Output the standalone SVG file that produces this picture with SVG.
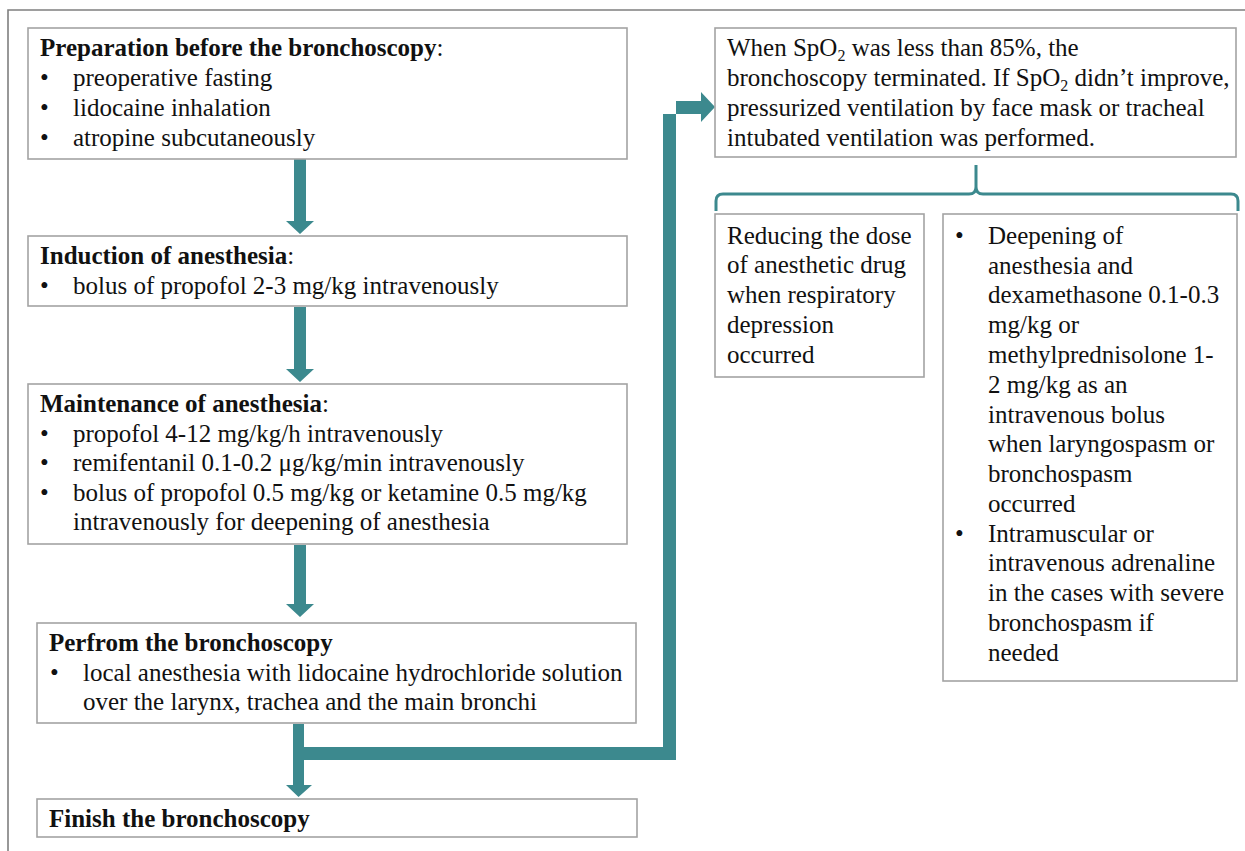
<svg xmlns="http://www.w3.org/2000/svg" width="1245" height="851" viewBox="0 0 1245 851">
<style>
.box{fill:#ffffff;stroke:#a3a3a3;stroke-width:1.6}
.t{font-family:"Liberation Serif",Tinos,"DejaVu Serif",serif;font-size:25px;fill:#111111}
.b{font-weight:bold}
.sub{font-size:16px}
.arr{fill:#3c898e}
.brace{fill:none;stroke:#3c898e;stroke-width:3;stroke-linejoin:round}
.frame{stroke:#7f7f7f;stroke-width:1.6;fill:none}
</style>
<rect width="1245" height="851" fill="#ffffff"/>
<path class="frame" d="M8,851 V10 H1245"/>

<g id="connectors">
  <polygon class="arr" points="294,159 306,159 306,221 314,221 300,234 286,221 294,221"/>
  <polygon class="arr" points="294,307 306,307 306,369 314,369 300,382 286,369 294,369"/>
  <polygon class="arr" points="294,545 306,545 306,604 314,604 300,617 286,604 294,604"/>
  <polygon class="arr" points="293,724 304,724 304,785 312,785 298.5,797 286,785 293,785"/>
  <polygon class="arr" points="304,747 663,747 663,114 701,114 701,122 715,107 701,92 701,101 676,101 676,760 304,760"/>
  <path class="brace" d="M716,211 V201 Q716,194 723,194 H969 Q976,194 976,187 V165 M976,187 Q976,194 983,194 H1231 Q1238,194 1238,201 V211"/>
</g>

<g id="node-preparation">
  <rect class="box" x="28" y="28" width="599" height="131"/>
  <text class="t" x="40" y="56"><tspan class="b">Preparation before the bronchoscopy</tspan>:</text>
  <text class="t" x="40" y="86">•</text><text class="t" x="73" y="86">preoperative fasting</text>
  <text class="t" x="40" y="116">•</text><text class="t" x="73" y="116">lidocaine inhalation</text>
  <text class="t" x="40" y="146">•</text><text class="t" x="73" y="146">atropine subcutaneously</text>
</g>

<g id="node-induction">
  <rect class="box" x="28" y="236" width="599" height="70"/>
  <text class="t" x="40" y="264"><tspan class="b">Induction of anesthesia</tspan>:</text>
  <text class="t" x="40" y="294">•</text><text class="t" x="73" y="294">bolus of propofol 2-3 mg/kg intravenously</text>
</g>

<g id="node-maintenance">
  <rect class="box" x="28" y="384" width="599" height="160"/>
  <text class="t" x="40" y="412"><tspan class="b">Maintenance of anesthesia</tspan>:</text>
  <text class="t" x="40" y="442">•</text><text class="t" x="73" y="442">propofol 4-12 mg/kg/h intravenously</text>
  <text class="t" x="40" y="471">•</text><text class="t" x="73" y="471">remifentanil 0.1-0.2 μg/kg/min intravenously</text>
  <text class="t" x="40" y="501">•</text><text class="t" x="73" y="501">bolus of propofol 0.5 mg/kg or ketamine 0.5 mg/kg</text>
  <text class="t" x="73" y="530">intravenously for deepening of anesthesia</text>
</g>

<g id="node-perform">
  <rect class="box" x="37" y="623" width="599" height="100"/>
  <text class="t b" x="49" y="651">Perfrom the bronchoscopy</text>
  <text class="t" x="50" y="681">•</text><text class="t" x="83" y="681">local anesthesia with lidocaine hydrochloride solution</text>
  <text class="t" x="83" y="710">over the larynx, trachea and the main bronchi</text>
</g>

<g id="node-finish">
  <rect class="box" x="37" y="799" width="600" height="38"/>
  <text class="t b" x="49" y="827">Finish the bronchoscopy</text>
</g>

<g id="node-spo2">
  <rect class="box" x="715" y="28" width="521" height="129"/>
  <text class="t" x="727" y="56">When SpO<tspan class="sub" dy="5">2</tspan><tspan dy="-5"> was less than 85%, the</tspan></text>
  <text class="t" x="727" y="86">bronchoscopy terminated. If SpO<tspan class="sub" dy="5">2</tspan><tspan dy="-5"> didn’t improve,</tspan></text>
  <text class="t" x="727" y="116">pressurized ventilation by face mask or tracheal</text>
  <text class="t" x="727" y="146">intubated ventilation was performed.</text>
</g>

<g id="node-reduce">
  <rect class="box" x="715" y="214" width="209" height="163"/>
  <text class="t" x="727" y="244">Reducing the dose</text>
  <text class="t" x="727" y="273">of anesthetic drug</text>
  <text class="t" x="727" y="303">when respiratory</text>
  <text class="t" x="727" y="333">depression</text>
  <text class="t" x="727" y="363">occurred</text>
</g>

<g id="node-deepen">
  <rect class="box" x="943" y="214" width="294" height="467"/>
  <text class="t" x="955" y="244">•</text>
  <text class="t" x="988" y="244">Deepening of</text>
  <text class="t" x="988" y="274">anesthesia and</text>
  <text class="t" x="988" y="303">dexamethasone 0.1-0.3</text>
  <text class="t" x="988" y="333">mg/kg or</text>
  <text class="t" x="988" y="363">methylprednisolone 1-</text>
  <text class="t" x="988" y="393">2 mg/kg as an</text>
  <text class="t" x="988" y="423">intravenous bolus</text>
  <text class="t" x="988" y="452">when laryngospasm or</text>
  <text class="t" x="988" y="482">bronchospasm</text>
  <text class="t" x="988" y="512">occurred</text>
  <text class="t" x="955" y="542">•</text>
  <text class="t" x="988" y="542">Intramuscular or</text>
  <text class="t" x="988" y="571">intravenous adrenaline</text>
  <text class="t" x="988" y="601">in the cases with severe</text>
  <text class="t" x="988" y="631">bronchospasm if</text>
  <text class="t" x="988" y="661">needed</text>
</g>
</svg>
